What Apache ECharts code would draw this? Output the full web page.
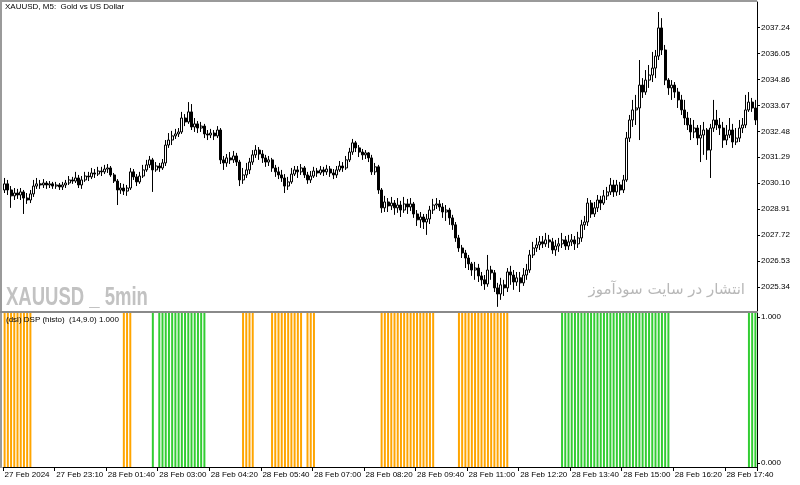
<!DOCTYPE html>
<html><head><meta charset="utf-8">
<script src="https://cdn.jsdelivr.net/npm/echarts@6/dist/echarts.min.js"></script>
<style>html,body{margin:0;padding:0;background:#fff}#c{width:800px;height:485px}</style>
</head><body><div id="c"></div>
<script>
// x-axis tick labels (one every 16 bars of 5 minutes)
const timeLabels = ['27 Feb 2024','27 Feb 23:10','28 Feb 01:40','28 Feb 03:00','28 Feb 04:20','28 Feb 05:40','28 Feb 07:00','28 Feb 08:20','28 Feb 09:40','28 Feb 11:00','28 Feb 12:20','28 Feb 13:40','28 Feb 15:00','28 Feb 16:20','28 Feb 17:40'];
// price scale labels
const priceTicks = [2025.34, 2026.53, 2027.72, 2028.91, 2030.10, 2031.29, 2032.48, 2033.67, 2034.86, 2036.05, 2037.24];
const histoTicks = [0, 1];
// XAUUSD M5 candles: [open, close, low, high]
const candles = [
[2029.79,2030.07,2029.65,2030.34],[2030.07,2029.79,2029.56,2030.25],[2029.79,2029.52,2028.97,2029.97],[2029.52,2029.65,2029.33,2029.88],
[2029.65,2029.56,2029.38,2029.84],[2029.56,2029.70,2029.33,2029.88],[2029.70,2029.42,2028.69,2029.79],[2029.42,2029.33,2029.15,2029.65],
[2029.33,2029.61,2029.19,2029.79],[2029.61,2029.97,2029.47,2030.25],[2029.97,2030.07,2029.84,2030.34],[2030.07,2030.02,2029.84,2030.25],
[2030.02,2030.11,2029.88,2030.29],[2030.11,2030.02,2029.84,2030.20],[2030.02,2030.07,2029.88,2030.20],[2030.07,2029.97,2029.84,2030.16],
[2029.97,2030.02,2029.84,2030.16],[2030.02,2029.93,2029.79,2030.11],[2029.93,2030.02,2029.79,2030.16],[2030.02,2030.11,2029.88,2030.25],
[2030.11,2030.25,2030.02,2030.43],[2030.25,2030.20,2030.07,2030.39],[2030.20,2030.34,2030.11,2030.62],[2030.34,2030.02,2029.88,2030.48],
[2030.02,2030.25,2029.84,2030.43],[2030.25,2030.43,2030.16,2030.62],[2030.43,2030.39,2030.20,2030.62],[2030.39,2030.57,2030.29,2030.80],
[2030.57,2030.52,2030.34,2030.75],[2030.52,2030.66,2030.43,2030.85],[2030.66,2030.62,2030.43,2030.85],[2030.62,2030.75,2030.52,2030.94],
[2030.75,2030.80,2030.57,2030.98],[2030.80,2030.48,2030.39,2030.89],[2030.48,2030.20,2030.11,2030.57],[2030.20,2029.79,2029.10,2030.29],
[2029.79,2029.88,2029.61,2030.11],[2029.88,2029.74,2029.56,2030.07],[2029.74,2029.88,2029.52,2030.02],[2029.88,2030.62,2029.79,2030.80],
[2030.62,2030.39,2030.25,2030.75],[2030.39,2030.16,2029.97,2030.52],[2030.16,2030.43,2030.07,2030.62],[2030.43,2030.71,2030.34,2030.94],
[2030.71,2030.94,2030.62,2031.17],[2030.94,2031.17,2030.80,2031.35],[2031.17,2030.71,2029.70,2031.26],[2030.71,2030.89,2030.62,2031.07],
[2030.89,2030.80,2030.62,2031.03],[2030.80,2031.03,2030.71,2031.21],[2031.03,2031.85,2030.89,2032.08],[2031.85,2032.08,2031.72,2032.40],
[2032.08,2032.27,2031.85,2032.50],[2032.27,2032.36,2032.13,2032.59],[2032.36,2032.45,2032.22,2032.63],[2032.45,2033.09,2032.36,2033.37],
[2033.09,2032.91,2032.72,2033.27],[2032.91,2033.37,2032.82,2033.82],[2033.37,2032.68,2032.54,2033.73],[2032.68,2032.82,2032.45,2033.09],
[2032.82,2032.63,2032.40,2032.95],[2032.63,2032.72,2032.45,2032.91],[2032.72,2032.36,2032.17,2032.82],[2032.36,2032.31,2032.08,2032.54],
[2032.31,2032.40,2032.17,2032.59],[2032.40,2032.27,2032.08,2032.54],[2032.27,2032.54,2032.17,2032.72],[2032.54,2031.17,2030.98,2032.63],
[2031.17,2031.03,2030.71,2031.35],[2031.03,2031.26,2030.85,2031.44],[2031.26,2031.17,2030.98,2031.53],[2031.17,2031.35,2031.03,2031.58],
[2031.35,2031.07,2030.89,2031.49],[2031.07,2030.25,2029.97,2031.17],[2030.25,2030.48,2030.07,2030.80],[2030.48,2030.71,2030.34,2031.03],
[2030.71,2031.07,2030.52,2031.26],[2031.07,2031.40,2030.94,2031.62],[2031.40,2031.62,2031.26,2031.85],[2031.62,2031.44,2031.17,2031.76],
[2031.44,2031.26,2031.03,2031.62],[2031.26,2031.07,2030.85,2031.40],[2031.07,2031.17,2030.89,2031.35],[2031.17,2030.80,2030.62,2031.26],
[2030.80,2030.62,2030.39,2030.94],[2030.62,2030.48,2030.29,2030.85],[2030.48,2030.34,2030.16,2030.71],[2030.34,2029.97,2029.65,2030.52],
[2029.97,2030.16,2029.79,2030.39],[2030.16,2030.52,2030.07,2030.80],[2030.52,2030.71,2030.43,2030.89],[2030.71,2030.62,2030.34,2030.89],
[2030.62,2030.80,2030.48,2030.98],[2030.80,2030.48,2030.34,2030.89],[2030.48,2030.25,2030.07,2030.62],[2030.25,2030.43,2030.11,2030.66],
[2030.43,2030.66,2030.34,2030.85],[2030.66,2030.57,2030.39,2030.80],[2030.57,2030.71,2030.48,2030.89],[2030.71,2030.62,2030.43,2030.85],
[2030.62,2030.75,2030.48,2030.94],[2030.75,2030.57,2030.39,2030.89],[2030.57,2030.48,2030.29,2030.75],[2030.48,2030.71,2030.34,2030.89],
[2030.71,2030.89,2030.62,2031.12],[2030.89,2030.80,2030.62,2031.07],[2030.80,2031.17,2030.71,2031.35],[2031.17,2031.53,2031.07,2031.72],
[2031.53,2031.95,2031.40,2032.13],[2031.95,2031.72,2031.53,2032.04],[2031.72,2031.53,2031.30,2031.85],[2031.53,2031.40,2031.17,2031.67],
[2031.40,2031.49,2031.21,2031.62],[2031.49,2031.26,2031.07,2031.53],[2031.26,2030.62,2030.48,2031.40],[2030.62,2030.85,2030.48,2031.03],
[2030.85,2029.79,2029.61,2030.94],[2029.79,2028.97,2028.74,2029.88],[2028.97,2029.24,2028.78,2029.52],[2029.24,2029.06,2028.78,2029.42],
[2029.06,2029.19,2028.87,2029.47],[2029.19,2028.97,2028.65,2029.33],[2028.97,2029.10,2028.74,2029.42],[2029.10,2028.87,2028.55,2029.29],
[2028.87,2029.15,2028.74,2029.47],[2029.15,2029.01,2028.69,2029.38],[2029.01,2029.15,2028.83,2029.42],[2029.15,2028.69,2028.51,2029.24],
[2028.69,2028.42,2028.14,2028.87],[2028.42,2028.55,2028.05,2028.78],[2028.55,2028.32,2028.00,2028.69],[2028.32,2028.46,2027.73,2028.69],
[2028.46,2028.87,2028.23,2029.06],[2028.87,2029.10,2028.69,2029.38],[2029.10,2029.15,2028.92,2029.42],[2029.15,2029.01,2028.83,2029.33],
[2029.01,2028.78,2028.51,2029.19],[2028.78,2028.87,2028.37,2029.10],[2028.87,2028.51,2028.19,2028.97],[2028.51,2028.19,2027.96,2028.65],
[2028.19,2027.59,2027.41,2028.32],[2027.59,2027.13,2026.95,2027.73],[2027.13,2026.90,2026.67,2027.27],[2026.90,2026.67,2026.21,2027.04],
[2026.67,2026.40,2026.12,2026.81],[2026.40,2026.12,2025.85,2026.49],[2026.12,2026.21,2025.67,2026.49],[2026.21,2025.85,2025.57,2026.40],
[2025.85,2025.67,2025.39,2026.03],[2025.67,2025.48,2025.21,2025.89],[2025.48,2026.12,2025.35,2026.81],[2026.12,2025.99,2025.67,2026.31],
[2025.99,2025.30,2025.11,2026.12],[2025.30,2025.02,2024.43,2025.53],[2025.02,2025.44,2024.75,2025.76],[2025.44,2025.30,2024.93,2025.67],
[2025.30,2026.03,2025.11,2026.21],[2026.03,2025.89,2025.44,2026.31],[2025.89,2025.57,2025.21,2026.12],[2025.57,2025.76,2025.39,2026.03],
[2025.76,2025.53,2025.11,2026.03],[2025.53,2025.89,2025.39,2026.21],[2025.89,2026.12,2025.67,2026.40],[2026.12,2026.81,2025.99,2027.04],
[2026.81,2027.13,2026.67,2027.41],[2027.13,2027.27,2026.95,2027.59],[2027.27,2027.41,2027.04,2027.68],[2027.41,2027.32,2027.13,2027.68],
[2027.32,2027.50,2027.18,2027.82],[2027.50,2027.41,2027.13,2027.73],[2027.41,2027.04,2026.86,2027.59],[2027.04,2027.22,2026.77,2027.50],
[2027.22,2027.32,2026.95,2027.59],[2027.32,2027.50,2027.13,2027.82],[2027.50,2027.22,2027.04,2027.68],[2027.22,2027.41,2027.04,2027.73],
[2027.41,2027.50,2027.22,2027.77],[2027.50,2027.32,2027.04,2027.68],[2027.32,2027.59,2027.13,2027.87],[2027.59,2028.19,2027.41,2028.42],
[2028.19,2028.32,2027.96,2028.60],[2028.32,2029.19,2028.14,2029.42],[2029.19,2028.69,2028.51,2029.33],[2028.69,2028.97,2028.55,2029.24],
[2028.97,2029.33,2028.78,2029.56],[2029.33,2029.19,2028.87,2029.52],[2029.19,2029.52,2029.10,2029.79],[2029.52,2029.70,2029.33,2029.93],
[2029.70,2030.02,2029.56,2030.34],[2030.02,2029.70,2029.47,2030.25],[2029.70,2030.02,2029.52,2030.25],[2030.02,2029.79,2029.56,2030.16],
[2029.79,2030.25,2029.65,2030.48],[2030.25,2032.17,2030.16,2032.45],[2032.17,2033.00,2031.99,2033.23],[2033.00,2033.46,2032.68,2033.92],
[2033.46,2033.55,2032.77,2034.15],[2033.55,2034.60,2032.08,2035.75],[2034.60,2034.28,2034.01,2034.92],[2034.28,2034.83,2034.15,2035.29],
[2034.83,2035.06,2034.47,2035.52],[2035.06,2035.38,2034.74,2036.12],[2035.38,2035.93,2034.92,2036.21],[2035.93,2037.22,2035.75,2037.95],
[2037.22,2036.21,2035.98,2037.67],[2036.21,2034.83,2034.60,2036.44],[2034.83,2034.47,2034.15,2034.92],[2034.47,2034.60,2033.92,2034.83],
[2034.60,2034.28,2034.01,2034.74],[2034.28,2033.92,2033.55,2034.47],[2033.92,2033.46,2033.23,2034.15],[2033.46,2033.09,2032.77,2033.92],
[2033.09,2032.77,2032.54,2033.37],[2032.77,2032.45,2032.08,2033.09],[2032.45,2032.63,2032.17,2033.00],[2032.63,2032.17,2031.85,2032.77],
[2032.17,2032.31,2031.07,2032.77],[2032.31,2032.54,2031.40,2032.91],[2032.54,2031.62,2031.17,2032.63],[2031.62,2032.63,2030.34,2032.82],
[2032.63,2033.00,2032.45,2033.92],[2033.00,2032.77,2032.54,2033.46],[2032.77,2032.63,2032.31,2033.09],[2032.63,2032.08,2031.72,2032.91],
[2032.08,2032.31,2031.85,2032.77],[2032.31,2032.54,2032.17,2033.09],[2032.54,2031.99,2031.72,2032.82],[2031.99,2032.17,2031.85,2032.63],
[2032.17,2032.63,2031.99,2033.00],[2032.63,2032.77,2032.40,2033.09],[2032.77,2033.46,2032.63,2034.15],[2033.46,2033.82,2033.37,2034.28],
[2033.82,2033.55,2033.37,2034.01],[2033.55,2033.00,2032.77,2033.92]
];
// DSP histogram state per bar: 1 = green (bullish), -1 = orange (bearish), 0 = none
const dspSignal = [
-1,-1,-1,-1,-1,-1,-1,-1,-1,0,
0,0,0,0,0,0,0,0,0,0,
0,0,0,0,0,0,0,0,0,0,
0,0,0,0,0,0,0,-1,-1,-1,
0,0,0,0,0,0,1,0,1,1,
1,1,1,1,1,1,1,1,1,1,
1,1,1,0,0,0,0,0,0,0,
0,0,0,0,-1,-1,-1,-1,0,0,
0,0,0,-1,-1,-1,-1,-1,-1,-1,
-1,-1,-1,0,-1,-1,-1,0,0,0,
0,0,0,0,0,0,0,0,0,0,
0,0,0,0,0,0,0,-1,-1,-1,
-1,-1,-1,-1,-1,-1,-1,-1,-1,-1,
-1,-1,-1,-1,0,0,0,0,0,0,
0,-1,-1,-1,-1,-1,-1,-1,-1,-1,
-1,-1,-1,-1,-1,-1,-1,0,0,0,
0,0,0,0,0,0,0,0,0,0,
0,0,0,1,1,1,1,1,1,1,
1,1,1,1,1,1,1,1,1,1,
1,1,1,1,1,1,1,1,1,1,
1,1,1,1,1,1,1,0,0,0,
0,0,0,0,0,0,0,0,0,0,
0,0,0,0,0,0,0,0,0,0,
0,1,1,1
];

const categories = candles.map((_, i) => i % 16 === 0 ? timeLabels[i / 16] : '');
const greenBars = dspSignal.map(s => s === 1 ? 1 : '-');
const orangeBars = dspSignal.map(s => s === -1 ? 1 : '-');

const FONT = 'Liberation Sans';
const chart = echarts.init(document.getElementById('c'), null, {renderer: 'canvas'});
chart.setOption({
  animation: false,
  backgroundColor: '#ffffff',
  grid: [
    {left: 3, top: 2, width: 754, height: 309},
    {left: 3, top: 313, width: 754, height: 154}
  ],
  xAxis: [
    {type: 'category', gridIndex: 0, data: categories, boundaryGap: true,
     axisLine: {show: false}, axisTick: {show: false}, axisLabel: {show: false}, splitLine: {show: false}},
    {type: 'category', gridIndex: 1, data: categories, boundaryGap: true,
     axisLine: {show: true, lineStyle: {color: '#000', width: 1}},
     axisTick: {show: true, interval: 15, length: 4, lineStyle: {color: '#000'}},
     axisLabel: {show: true, interval: 15, align: 'left', margin: 4, color: '#000', fontFamily: FONT, fontSize: 8},
     splitLine: {show: false}}
  ],
  yAxis: [
    {type: 'value', gridIndex: 0, position: 'right', min: 2024.24, max: 2038.41,
     axisLine: {show: true, lineStyle: {color: '#000'}},
     axisTick: {show: true, customValues: priceTicks, length: 3, lineStyle: {color: '#000'}},
     axisLabel: {show: true, customValues: priceTicks, formatter: v => v.toFixed(2), margin: 4, color: '#000', fontFamily: FONT, fontSize: 8},
     splitLine: {show: false}},
    {type: 'value', gridIndex: 1, position: 'left', min: 0, max: 1, show: false},
    {type: 'value', gridIndex: 1, position: 'right', min: -0.0274, max: 1.0274,
     axisLine: {show: true, lineStyle: {color: '#000'}},
     axisTick: {show: true, customValues: histoTicks, length: 3, lineStyle: {color: '#000'}},
     axisLabel: {show: true, customValues: histoTicks, formatter: v => v.toFixed(3), margin: 4, color: '#000', fontFamily: FONT, fontSize: 8},
     splitLine: {show: false}}
  ],
  series: [
    {type: 'candlestick', xAxisIndex: 0, yAxisIndex: 0, data: candles, barWidth: 2.6,
     itemStyle: {color: '#ffffff', color0: '#000000', borderColor: '#000000', borderColor0: '#000000', borderWidth: 1}},
    {type: 'bar', xAxisIndex: 1, yAxisIndex: 1, data: greenBars, barWidth: 2, barGap: '-100%',
     itemStyle: {color: '#32CD32'}},
    {type: 'bar', xAxisIndex: 1, yAxisIndex: 1, data: orangeBars, barWidth: 2, barGap: '-100%',
     itemStyle: {color: '#FFA500'}}
  ],
  graphic: [
    {type: 'line', shape: {x1: 0, y1: 1, x2: 757, y2: 1}, style: {stroke: '#9a9a9a', lineWidth: 2}, z: 10},
    {type: 'line', shape: {x1: 1, y1: 0, x2: 1, y2: 468}, style: {stroke: '#9a9a9a', lineWidth: 2}, z: 10},
    {type: 'line', shape: {x1: 0, y1: 312, x2: 757, y2: 312}, style: {stroke: '#8a8a8a', lineWidth: 2}, z: 10},
    {type: 'text', left: 5, top: 3, z: 20,
     style: {text: 'XAUUSD, M5:  Gold vs US Dollar', fill: '#000', font: '8px "Liberation Sans"'}},
    {type: 'text', left: 6, top: 316, z: 20,
     style: {text: '(dsl) DSP (histo)  (14,9.0) 1.000', fill: '#000', font: '8px "Liberation Sans"'}},
    {type: 'text', x: 6, y: 311, scaleX: 0.74, z: 5,
     style: {x: 0, y: 0, text: 'XAUUSD _ 5min', fill: '#c2c2c2', verticalAlign: 'bottom', font: 'bold 25px "Liberation Sans"'}},
    {type: 'text', right: 55, top: 283, z: 5,
     style: {text: 'انتشار در سایت سودآموز', fill: '#b8b8b8', font: '15px "DejaVu Sans"'}}
  ]
});
</script>
</body></html>
